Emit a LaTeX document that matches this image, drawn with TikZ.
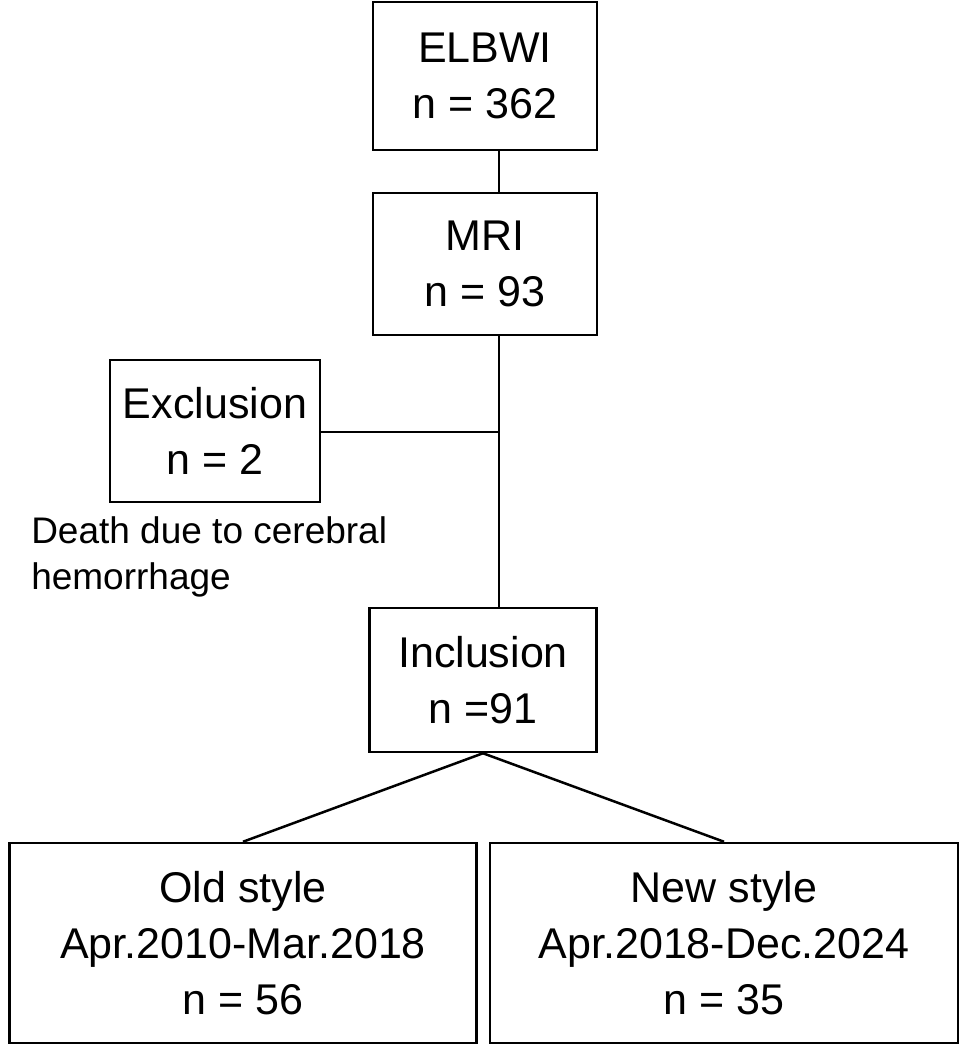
\documentclass[tikz,border=0pt]{standalone}
\usepackage{fontspec}
\setmainfont{Liberation Sans}
\begin{document}
\begin{tikzpicture}[x=1pt,y=-1pt,line width=2.5pt,
		box_style/.style={draw=black,align=center,font=\fontsize{43}{56}\selectfont,inner sep=0pt},
		note_style/.style={align=left,anchor=north west,inner sep=0pt,font=\fontsize{37}{46}\selectfont},
		edge_style/.style={draw=black}]
		\useasboundingbox (0,0) rectangle (968,1049);
		
		\node[box_style,minimum width=224,minimum height=148] (elbwi) at (485,76)  {ELBWI\\n = 362};
		\node[box_style,minimum width=224,minimum height=142] (mri) at (485,264)  {MRI\\n = 93};
		\node[box_style,minimum width=210,minimum height=142] (excl) at (215,431)  {Exclusion\\n = 2};
		\node[note_style] (death) at (30,515)  {Death due to cerebral\\hemorrhage};
		\node[box_style,minimum width=227,minimum height=144] (incl) at (483,680)  {Inclusion\\n =91};
		\node[box_style,minimum width=467,minimum height=200] (old) at (243,943)  {Old style\\Apr.2010-Mar.2018\\n = 56};
		\node[box_style,minimum width=468,minimum height=200] (new) at (724,943)  {New style\\Apr.2018-Dec.2024\\n = 35};
		\coordinate (split) at (499,432);
		
		\draw[edge_style]  ([xshift=14]elbwi.south) -- ([xshift=14]mri.north);
		\draw[edge_style]  ([xshift=14]mri.south) -- ([xshift=16]incl.north);
		\draw[edge_style]  (excl.east |- split) -- (split);
		\draw[edge_style]  (incl.south) -- (old.north);
		\draw[edge_style]  (incl.south) -- (new.north);

\end{tikzpicture}
\end{document}
